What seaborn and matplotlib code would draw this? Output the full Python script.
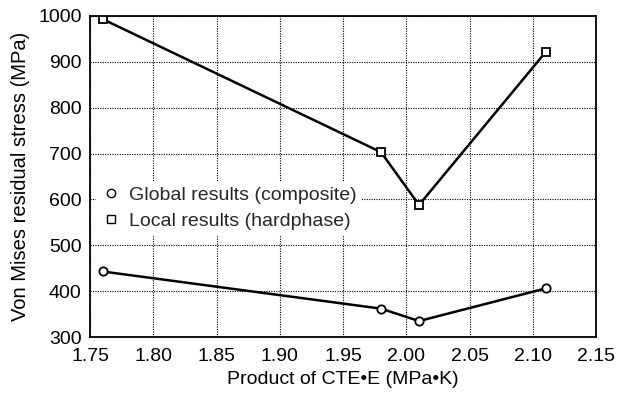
import matplotlib
matplotlib.use("Agg")
import matplotlib.pyplot as plt
import seaborn as sns
import pandas as pd
from matplotlib.lines import Line2D

cte_e = [1.76, 1.98, 2.01, 2.11]
global_vals = [443, 362, 335, 406]
local_vals = [993, 703, 588, 921]
series_names = ["Global results (composite)", "Local results (hardphase)"]
x_ticks = [1.75, 1.80, 1.85, 1.90, 1.95, 2.00, 2.05, 2.10, 2.15]
y_ticks = [300, 400, 500, 600, 700, 800, 900, 1000]

sns.set_theme(style="white")
plt.rcParams['font.family'] = ['Liberation Sans', 'DejaVu Sans']

df = pd.DataFrame({
    "x": cte_e * 2,
    "y": global_vals + local_vals,
    "series": [series_names[0]] * 4 + [series_names[1]] * 4,
})

fig = plt.figure(figsize=(6.21, 3.98), dpi=100)
ax = fig.add_axes([0.145, 0.153, 0.815, 0.807])

for name, mk in zip(series_names, ["o", "s"]):
    sub = df[df["series"] == name]
    sns.lineplot(data=sub, x="x", y="y", ax=ax, color="black", linewidth=1.8,
                 marker=mk, markersize=6, markerfacecolor="white",
                 markeredgecolor="black", markeredgewidth=1.3, legend=False)

ax.set_xlim(1.75, 2.15)
ax.set_ylim(300, 1000)
ax.set_xticks(x_ticks)
ax.set_xticklabels([f"{v:.2f}" for v in x_ticks])
ax.set_yticks(y_ticks)
ax.grid(True, color="black", linestyle=(0, (1, 1.2)), linewidth=0.8)
for s in ax.spines.values():
    s.set_color("black")
    s.set_linewidth(1.3)
ax.tick_params(axis="both", labelsize=14, colors="black", length=0)
ax.tick_params(axis="x", pad=8)
ax.tick_params(axis="y", pad=6)
ax.set_xlabel("Product of CTE\u2022E (MPa\u2022K)", fontsize=14,
              color="black", labelpad=4)
ax.set_ylabel("Von Mises residual stress (MPa)", fontsize=14.5, color="black", labelpad=6)

handles = [
    Line2D([], [], linestyle="none", marker="o", markersize=6, markerfacecolor="white",
           markeredgecolor="black", markeredgewidth=1.0),
    Line2D([], [], linestyle="none", marker="s", markersize=6, markerfacecolor="white",
           markeredgecolor="black", markeredgewidth=1.0),
]
leg = ax.legend(handles, series_names, loc="upper left", bbox_to_anchor=(0.0, 0.50),
                frameon=True, fontsize=14, handletextpad=0.3, handlelength=1.2,
                borderpad=0.2, labelspacing=0.45, borderaxespad=0.3)
leg.get_frame().set_edgecolor("white")
leg.get_frame().set_facecolor("white")
leg.get_frame().set_alpha(1.0)

fig.savefig("out.png", dpi=100)
